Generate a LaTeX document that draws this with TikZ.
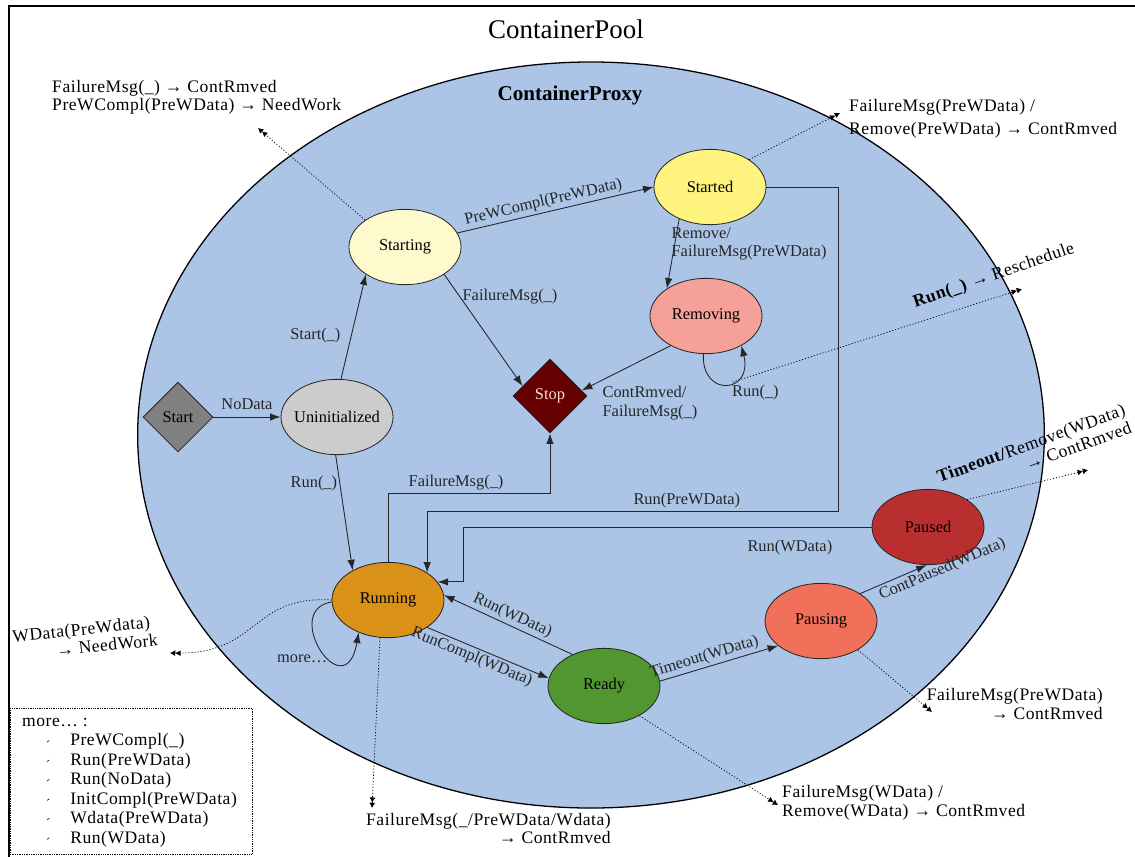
\documentclass[tikz,border=0pt]{standalone}
\usepackage{fontspec}
\setmainfont{Liberation Serif}
\newfontfamily\annfont{Liberation Serif}[LetterSpace=3]
\usetikzlibrary{shapes.geometric,arrows.meta,calc}

\definecolor{proxyblue}{RGB}{172,197,230}
\definecolor{cStarting}{RGB}{255,250,205}
\definecolor{cStarted}{RGB}{255,243,128}
\definecolor{cRemoving}{RGB}{245,160,152}
\definecolor{cStop}{RGB}{100,0,0}
\definecolor{cStopText}{RGB}{255,222,205}
\definecolor{cStart}{RGB}{128,128,128}
\definecolor{cUninit}{RGB}{204,204,204}
\definecolor{cRunning}{RGB}{218,145,24}
\definecolor{cReady}{RGB}{82,150,48}
\definecolor{cPausing}{RGB}{240,112,90}
\definecolor{cPaused}{RGB}{185,46,46}

% zero-width label so that the state shapes keep their own size
\newcommand\ztext[1]{\makebox[0pt]{#1}}
% small tick used in the list of extra events
\newcommand\lmark{\raisebox{0.45ex}{\rotatebox{35}{\rule{2.4pt}{0.5pt}}}}
\newcommand\litem[1]{\hspace*{21pt}\makebox[20pt][l]{\lmark}#1}

\tikzset{
  stbox/.style={ellipse, draw=black!85, line width=0.7pt, minimum width=3.36cm,
    minimum height=2.26cm, inner sep=0pt, font=\fontsize{14}{16}\selectfont},
  chbox/.style={diamond, draw=black!85, line width=0.7pt, shape aspect=1,
    inner sep=0pt, font=\fontsize{14}{16}\selectfont},
  tedge/.style={draw=black!85, line width=0.75pt, -{Latex[length=9pt,width=6.5pt]}},
  tlab/.style={font=\fontsize{14}{16}\selectfont, inner sep=2pt, text=black!85},
  nedge/.style={draw=black, line width=0.6pt, dash pattern=on 1pt off 1.6pt,
    -{Latex[length=4.5pt,width=5pt]Latex[length=4.5pt,width=5pt]}},
  ntext/.style={font=\annfont\fontsize{15}{15.8}\selectfont, inner sep=0pt},
}

\begin{document}
\begin{tikzpicture}[x=0.03cm, y=-0.03cm]
\useasboundingbox (0,0) rectangle (1135,856);
\clip (0,0) rectangle (1135,856);
\fill[white] (0,0) rectangle (1135,856);

% ContainerPool frame
\draw[line width=2.2pt] (9,6) rectangle (1150,870);
\node[font=\fontsize{23}{28}\selectfont] (pool) at (566,29) {ContainerPool};

% ContainerProxy region
\node[ellipse, draw, line width=1.1pt, fill=proxyblue, minimum width=27.2cm,
  minimum height=22.38cm, inner sep=0pt] (proxy) at (591,435) {};
\node[font=\bfseries\fontsize{18}{22}\selectfont] (proxyname) at (570,95) {ContainerProxy};

% states
\node[chbox, fill=cStart, minimum width=2.1cm, minimum height=2.1cm] (start) at (178,417) {\ztext{Start}};
\node[stbox, fill=cUninit] (uninit) at (337,417) {\ztext{Uninitialized}};
\node[stbox, fill=cStarting] (starting) at (405,247) {\ztext{Starting}};
\node[stbox, fill=cStarted] (started) at (710,187) {\ztext{Started}};
\node[stbox, fill=cRemoving] (removing) at (706,316) {\ztext{Removing}};
\node[chbox, fill=cStop, text=cStopText, minimum width=2.22cm, minimum height=2.22cm] (stop) at (550,396) {\ztext{Stop}};
\node[stbox, fill=cRunning] (run) at (388,600) {\ztext{Running}};
\node[stbox, fill=cReady] (ready) at (604,686) {\ztext{Ready}};
\node[stbox, fill=cPausing] (pausing) at (821,621) {\ztext{Pausing}};
\node[stbox, fill=cPaused] (paused) at (928,527) {\ztext{Paused}};

% helper coordinates for the routed transitions
\coordinate (fmy) at (0,493);
\coordinate (rpy) at (0,511);
\coordinate (rpx) at (838,0);
\coordinate (rwx) at (463,0);

% transitions
\draw[tedge] (start.east) -- node[tlab, above=4pt] {NoData} (uninit.west);
\draw[tedge] (uninit.84) -- node[tlab, left=7pt, pos=0.42] {Start(\_)} (starting.215);
\draw[tedge] (uninit.268) -- node[tlab, left, pos=0.25] {Run(\_)} (run.140);
\draw[tedge] (starting.15) -- node[tlab, above, sloped, pos=0.45] {PreWCompl(PreWData)} (started.180);
\draw[tedge] (starting.-35) -- node[tlab, right, pos=0.2] {FailureMsg(\_)} (stop.160);
\draw[tedge] (started.226) -- node[tlab, anchor=north west, pos=0.08, align=left, xshift=-8pt] {Remove/\\FailureMsg(PreWData)} (removing.145);
\draw[tedge] (removing.220) -- node[tlab, anchor=north west, pos=0.85, align=left, xshift=4pt] {ContRmved/\\FailureMsg(\_)} (stop.10);
\draw[tedge] (removing.266) .. controls +(-2,44) and +(12,48) ..
  coordinate[pos=0.6] (loopR) node[tlab, pos=0.55, anchor=north west, yshift=1pt] {Run(\_)} (removing.-40);
\draw[tedge] (run.north) -- (run.north |- fmy) -| node[tlab, above, pos=0.21] {FailureMsg(\_)} (stop.south);
\draw[tedge] (started.east) -| (rpx |- rpy) -| node[tlab, above, pos=0.184] {Run(PreWData)} (run.35);
\draw[tedge] (paused.west) -| node[tlab, below=9pt, pos=0.1] {Run(WData)} (rwx |- run.20) -- (run.20);
\draw[tedge] (ready.135) -- node[tlab, above, sloped] {Run(WData)} (run.5);
\draw[tedge] (run.-35) -- node[tlab, below, sloped, pos=0.4] {RunCompl(WData)} (ready.172);
\draw[tedge] (run.182) .. controls (280,610) and (345,710) .. node[tlab, left, pos=0.62] {more\ldots} (run.228);
\draw[tedge] (ready.5) -- node[tlab, above, sloped, pos=0.4] {Timeout(WData)} (pausing.210);
\draw[tedge] (pausing.35) -- node[tlab, sloped, pos=0.2, anchor=north west] {ContPaused(WData)} (paused.268);

% outgoing messages to the pool
\coordinate (n1) at (258,128);
\draw[nedge] (starting.146) -- (n1);
\node[ntext, anchor=west, align=left, font=\annfont\fontsize{15}{15.4}\selectfont] (t1) at (52,97) {FailureMsg(\_) → ContRmved\\PreWCompl(PreWData) → NeedWork};

\coordinate (n2) at (840,113);
\draw[nedge] (started.35) -- (n2);
\node[ntext, anchor=west, align=left, font=\annfont\fontsize{15}{20}\selectfont] (t2) at (849,119) {FailureMsg(PreWData) /\\Remove(PreWData) → ContRmved};

\coordinate (n3) at (1022,289);
\draw[nedge] (loopR) -- (n3);
\node[ntext, rotate=19] (t3) at (994,276) {\textbf{Run(\_)} → Reschedule};

\coordinate (n4) at (1088,470);
\draw[nedge] (paused.35) -- (n4);
\node[ntext, rotate=20, align=right] (t4) at (1034,452) {\textbf{Timeout/}Remove(WData)\\→ ContRmved};

\coordinate (n5) at (932,712);
\draw[nedge] (pausing.-38) -- (n5);
\node[ntext, anchor=east, align=right] (t5) at (1103,704) {FailureMsg(PreWData)\\→ ContRmved};

\coordinate (n6) at (778,805);
\draw[nedge] (ready.-40) -- (n6);
\node[ntext, anchor=west, align=left] (t6) at (782,803) {FailureMsg(WData) /\\Remove(WData) → ContRmved};

\coordinate (n7) at (372,808);
\draw[nedge] (run.258) -- (n7);
\node[ntext, anchor=north east, align=right] (t7) at (611,813) {FailureMsg(\_/PreWData/Wdata)\\→ ContRmved};

\coordinate (n8) at (170,653);
\draw[nedge] (run.180) .. controls (250,595) and (260,655) .. (n8);
\node[ntext, rotate=6, align=left] (t8) at (85,638) {WData(PreWdata)\\\hspace*{2.4em}→ NeedWork};

% list of the events behind "more..."
\draw[densely dotted, line width=0.5pt] (10,708) rectangle (252,854);
\node[ntext, anchor=north west, align=left, font=\annfont\fontsize{15}{16.6}\selectfont] (legend) at (22,718)
  {more\ldots\ :\\
   \litem{PreWCompl(\_)}\\
   \litem{Run(PreWData)}\\
   \litem{Run(NoData)}\\
   \litem{InitCompl(PreWData)}\\
   \litem{Wdata(PreWData)}\\
   \litem{Run(WData)}};
\end{tikzpicture}
\end{document}
